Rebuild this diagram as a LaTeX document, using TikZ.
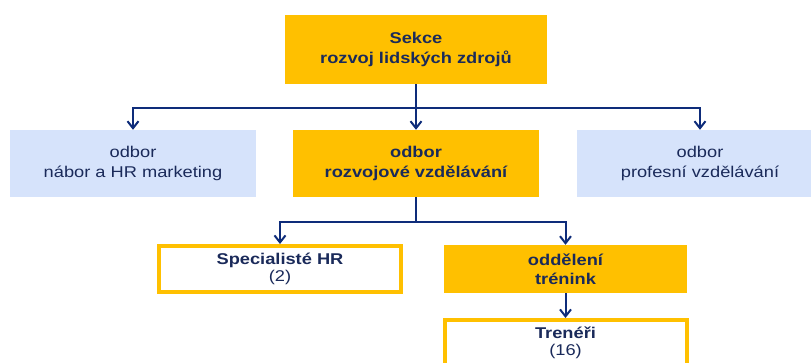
\documentclass[tikz,border=0pt]{standalone}
\usepackage{fontspec}
\setmainfont{Liberation Sans}[FakeStretch=1.17]
\usetikzlibrary{arrows.meta}
\definecolor{hrgold}{HTML}{FFC000}
\definecolor{hrblue}{HTML}{D6E3FB}
\definecolor{hrnavy}{HTML}{1A2A5A}
\definecolor{hrline}{HTML}{0E2C7A}
\begin{document}
\begin{tikzpicture}[x=1pt, y=-1pt, >={Straight Barb[length=7pt,width=11pt]},
  box/.style={inner sep=0pt, align=center, text=hrnavy},
  section/.style={box, fill=hrgold, minimum width=262pt, minimum height=69pt, font=\fontsize{15.6}{20}\selectfont\bfseries},
  dept/.style={box, fill=hrblue, minimum width=246pt, minimum height=67pt, font=\fontsize{15.6}{20}\selectfont},
  main dept/.style={dept, fill=hrgold, font=\fontsize{15.6}{20}\selectfont\bfseries},
  unit/.style={box, fill=hrgold, minimum width=243pt, minimum height=48pt, font=\fontsize{15.6}{19}\selectfont\bfseries},
  staff/.style={box, draw=hrgold, fill=white, line width=4pt, minimum width=242pt, minimum height=46pt, font=\fontsize{15.6}{17}\selectfont},
  link/.style={->, draw=hrline, line width=2pt}]
\clip (0,0) rectangle (811,362);
\node [section](sekce) at (416,49.5) {Sekce\\rozvoj lidských zdrojů};
\node [dept](nabor) at (133,163.5) {odbor\\nábor a HR marketing};
\node [main dept](rozvoj) at (416,163.5) {odbor\\rozvojové vzdělávání};
\node [dept](profesni) at (700,163.5) {odbor\\profesní vzdělávání};
\node [staff](specialiste) at (280,269) {\textbf{Specialisté HR}\\(2)};
\node [unit](oddeleni) at (565.5,269) {oddělení\\trénink};
\node [staff](treneri) at (565.5,343) {\textbf{Trenéři}\\(16)};
% vazby
\draw[link] (sekce.south) -- (rozvoj.north);
\draw[link] (sekce.south) ++(0,24) -| (nabor.north);
\draw[link] (sekce.south) ++(0,24) -| (profesni.north);
\draw[link] (rozvoj.south) -- ++(0,25) -| (specialiste.north);
\draw[link] (rozvoj.south) ++(0,25) -| (oddeleni.north);
\draw[link] (oddeleni.south) -- (treneri.north);
\end{tikzpicture}
\end{document}
